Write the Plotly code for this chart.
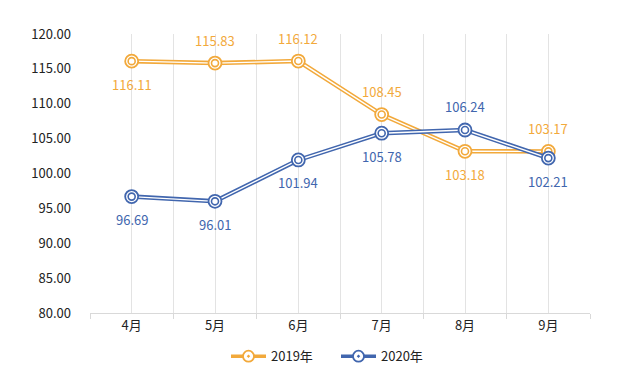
import plotly.graph_objects as go

months = ["4月", "5月", "6月", "7月", "8月", "9月"]
s2019 = [116.11, 115.83, 116.12, 108.45, 103.18, 103.17]
s2020 = [96.69, 96.01, 101.94, 105.78, 106.24, 102.21]
pos2019 = ["below", "above", "above", "above", "below", "above"]
pos2020 = ["below", "below", "below", "below", "above", "below"]
names = ["2019年", "2020年"]
colors = ["#F2A93B", "#4166AE"]

x = list(range(len(months)))
FONT = "Noto Sans CJK SC"

fig = go.Figure()
annotations = []
for vals, pos, name, col in [(s2019, pos2019, names[0], colors[0]),
                             (s2020, pos2020, names[1], colors[1])]:
    fig.add_trace(go.Scatter(x=x, y=vals, mode="lines", showlegend=False,
                             line=dict(color=col, width=4.5), hoverinfo="skip"))
    fig.add_trace(go.Scatter(x=x, y=vals, mode="lines", showlegend=False,
                             line=dict(color="white", width=1.4), hoverinfo="skip"))
    fig.add_trace(go.Scatter(x=x, y=vals, mode="markers", showlegend=False,
                             marker=dict(symbol="circle", size=13, color="white",
                                         line=dict(color=col, width=1.8))))
    fig.add_trace(go.Scatter(x=x, y=vals, mode="markers", showlegend=False,
                             marker=dict(symbol="circle", size=7, color="white",
                                         line=dict(color=col, width=1.6)),
                             hoverinfo="skip"))
    fig.add_trace(go.Scatter(x=[None], y=[None], mode="lines+markers", name=name,
                             line=dict(color=col, width=3.5),
                             marker=dict(symbol="circle-dot", size=11, color="white",
                                         line=dict(color=col, width=1.8))))
    for xi, v, p in zip(x, vals, pos):
        annotations.append(dict(x=xi, y=v, text=f"{v:.2f}", showarrow=False,
                                yshift=23 if p == "above" else -23,
                                font=dict(family=FONT, size=13, color=col)))

fig.update_layout(
    width=621, height=382,
    margin=dict(l=82, r=39, t=26, b=77, autoexpand=False),
    plot_bgcolor="white", paper_bgcolor="white",
    font=dict(family=FONT, size=12, color="#333333"),
    annotations=annotations,
    legend=dict(orientation="h", x=0.492, xanchor="center", y=-0.155, yanchor="middle",
                font=dict(family=FONT, size=13, color="#222222"),
                itemwidth=35, entrywidth=60, tracegroupgap=0),
    xaxis=dict(range=[-0.5, len(months) - 0.5], tickvals=x, ticktext=months,
               showgrid=True, gridcolor="#e3e3e3", gridwidth=1,
               showline=True, linecolor="#d9d9d9", linewidth=1.2,
               ticks="", zeroline=False,
               tickfont=dict(family=FONT, size=13, color="#222222"),
               minor=dict(tick0=-0.5, dtick=1, showgrid=True, gridcolor="#e3e3e3",
                          ticks="outside", ticklen=5, tickcolor="#d9d9d9")),
    yaxis=dict(range=[80, 120], dtick=5, tickformat=".2f", showgrid=False,
               zeroline=False, showline=False, ticks="",
               ticklabelstandoff=18,
               tickfont=dict(family=FONT, size=13, color="#222222")),
)

fig.write_html("out.html")
